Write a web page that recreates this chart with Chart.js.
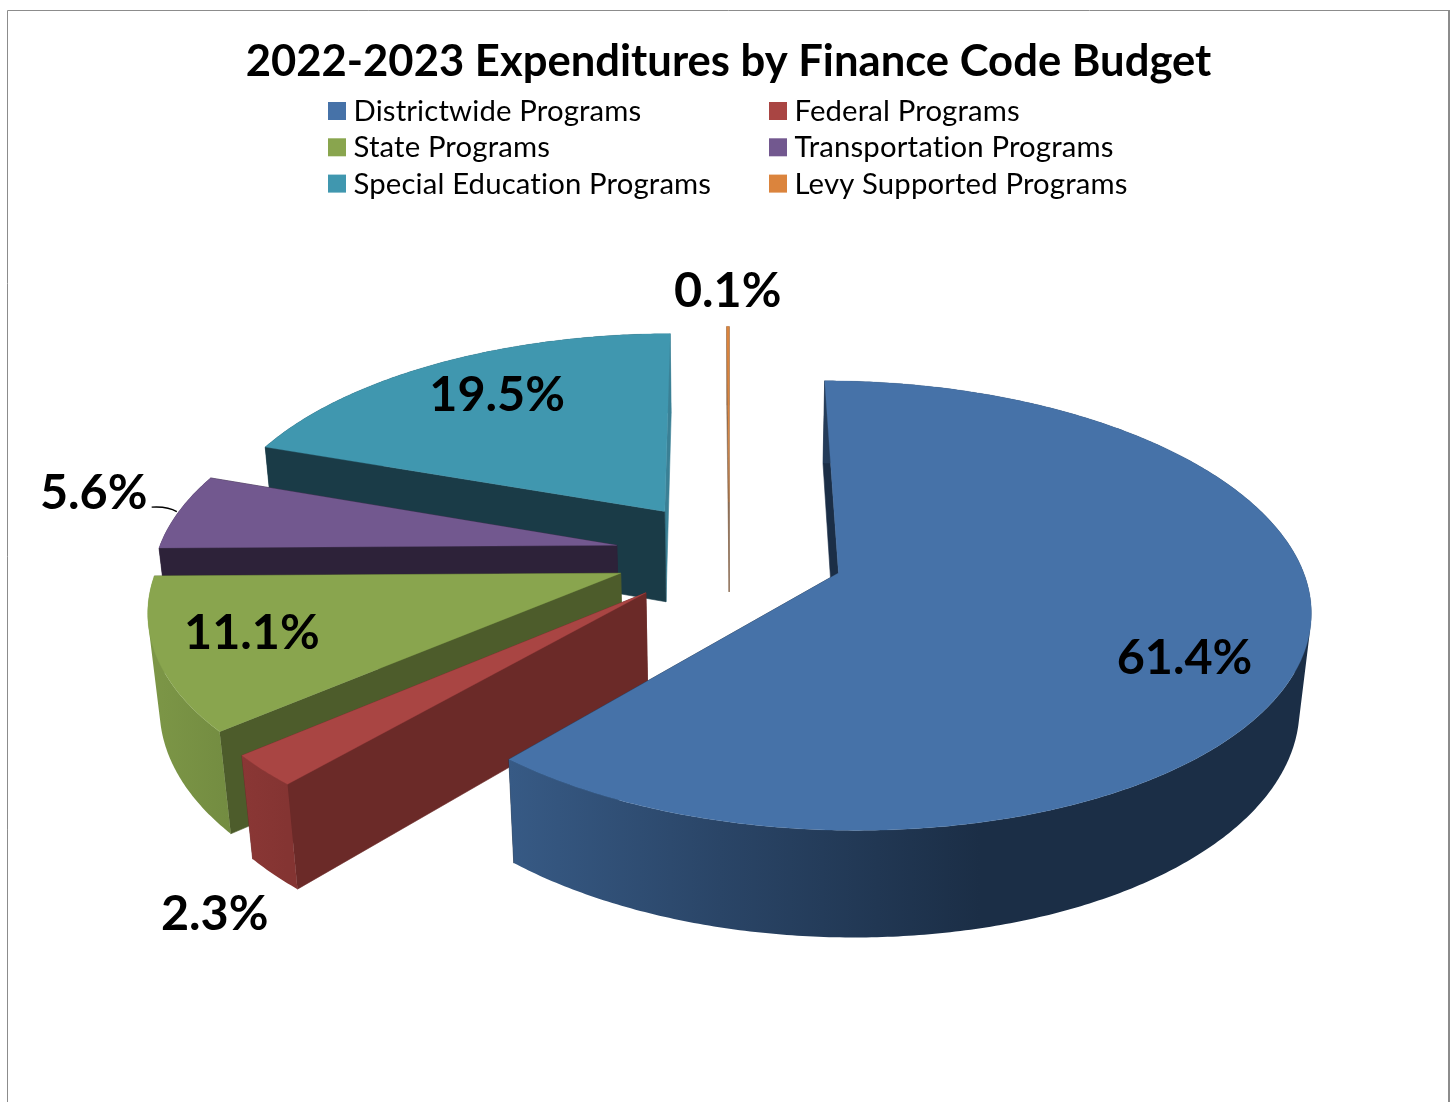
<!DOCTYPE html>
<html>
<head>
<meta charset="utf-8">
<title>2022-2023 Expenditures by Finance Code Budget</title>
<script src="https://cdn.jsdelivr.net/npm/chart.js@4"></script>
<style>
  html, body { margin: 0; padding: 0; background: #fff; overflow: hidden; }
  canvas { display: block; }
</style>
</head>
<body>
<canvas id="chart" width="1450" height="1102"></canvas>
<script>
// Budget shares, clockwise from twelve o'clock
const categories = ['Districtwide Programs', 'Federal Programs', 'State Programs',
                    'Transportation Programs', 'Special Education Programs', 'Levy Supported Programs'];
const shares = [61.4, 2.3, 11.1, 5.6, 19.5, 0.1];

// Slice colours
const topColors = ['#4672A8', '#A94543', '#89A54E', '#72588F', '#4097AF', '#DB843D'];
const cutColors = ['#1B2E46', '#6B2A28', '#4D5C2B', '#2D2239', '#1A3B47', '#8A6A50'];
const backCutColors = ['#1B2E46', '#6B2A28', '#4D5C2B', '#2D2239', '#3A8095', '#8A6A50'];
const rimStops = [
  [[509, '#375A85'], [720, '#2A4567'], [980, '#1B2E46'], [1310, '#1B2E46']],
  [[241, '#8A3735'], [287, '#843432']],
  [[146, '#7D9747'], [230, '#738C41']],
  [[150, '#2D2239'], [210, '#2D2239']],
  [[260, '#1A3B47'], [640, '#1A3B47'], [660, '#3A8095'], [675, '#3A8095']],
  [[720, '#8A6A50'], [740, '#8A6A50']]
];

// Label placement relative to each slice: distance from its point, turn from its mid angle (deg)
const labelReach = [0.781, 1.38, 0.797, 1.2245, 0.76, 1.243];
const labelTurn = [7, -13.4, 1.8, 2.9, 1.8, 0];

// Tilted-view camera for the exploded pie
const view = { cx: 729.5, cy: 554, sx: 459.5, sy: 214.6, depth: 94.5, depthGrow: 0.035, persp: 0.143, shrink: 0.02, explode: 0.25 };
const paintOrder = [5, 4, 3, 2, 1, 0];

function project(u, v, z) {
  const w = 1 - view.persp * v + view.shrink * z;
  return {
    x: view.cx + view.sx * u / w,
    y: view.cy + (view.sy * v + view.depth * z * (1 + view.depthGrow * v)) / w
  };
}

function addPolygon(ctx, pts) {
  pts.forEach((p, i) => (i ? ctx.lineTo(p.x, p.y) : ctx.moveTo(p.x, p.y)));
  ctx.closePath();
}

function polygon(ctx, pts) {
  ctx.beginPath();
  addPolygon(ctx, pts);
}

// Same winding for every strip, so overlapping strips add up under the nonzero fill rule
function clockwise(pts) {
  let area = 0;
  pts.forEach((p, i) => {
    const q = pts[(i + 1) % pts.length];
    area += p.x * q.y - q.x * p.y;
  });
  return area < 0 ? pts.slice().reverse() : pts;
}

const framePlugin = {
  id: 'frame',
  beforeDraw(chart) {
    const { ctx } = chart;
    ctx.save();
    ctx.fillStyle = '#fff';
    ctx.fillRect(0, 0, chart.width, chart.height);
    ctx.strokeStyle = '#8C8C8C';
    ctx.lineWidth = 1;
    ctx.beginPath();
    ctx.moveTo(7.5, chart.height);
    ctx.lineTo(7.5, 10.5);
    ctx.lineTo(chart.width, 10.5);
    ctx.stroke();
    ctx.fillStyle = '#8C8C8C';
    ctx.fillRect(1448, 10, 2, chart.height - 10);
    ctx.restore();
  }
};

const pie3dPlugin = {
  id: 'pie3d',
  // The arcs keep their layout from the pie controller; only the painting is replaced
  beforeDatasetDraw(chart, args) {
    const { ctx } = chart;
    const arcs = chart.getDatasetMeta(args.index).data;
    ctx.save();
    paintOrder.forEach(i => {
      const arc = arcs[i];
      const mid = (arc.startAngle + arc.endAngle) / 2;
      const tu = view.explode * Math.cos(mid);
      const tv = view.explode * Math.sin(mid);
      const rim = (a, z) => project(tu + Math.cos(a), tv + Math.sin(a), z);
      const point = z => project(tu, tv, z);

      const steps = Math.max(2, Math.ceil((arc.endAngle - arc.startAngle) / 0.01));
      const angles = [];
      for (let s = 0; s <= steps; s++) angles.push(arc.startAngle + (arc.endAngle - arc.startAngle) * s / steps);

      // Cut faces
      [[arc.endAngle, backCutColors[i]], [arc.startAngle, cutColors[i]]].forEach(([a, color]) => {
        polygon(ctx, [point(0), rim(a, 0), rim(a, 1), point(1)]);
        ctx.fillStyle = color;
        ctx.strokeStyle = color;
        ctx.lineWidth = 0.6;
        ctx.fill();
        ctx.stroke();
      });

      // Curved outer wall: every strip joins one path so the fill has no seams
      const stops = rimStops[i];
      const x0 = stops[0][0], x1 = stops[stops.length - 1][0];
      const grad = ctx.createLinearGradient(x0, 0, x1, 0);
      stops.forEach(([x, c]) => grad.addColorStop((x - x0) / (x1 - x0), c));
      ctx.fillStyle = grad;
      ctx.beginPath();
      for (let s = 0; s < steps; s++) {
        addPolygon(ctx, clockwise([rim(angles[s], 0), rim(angles[s + 1], 0), rim(angles[s + 1], 1), rim(angles[s], 1)]));
      }
      ctx.fill();

      // Top face
      polygon(ctx, [point(0)].concat(angles.map(a => rim(a, 0))));
      ctx.fillStyle = topColors[i];
      ctx.strokeStyle = topColors[i];
      ctx.lineWidth = 0.3;
      ctx.fill();
      ctx.stroke();
    });
    ctx.restore();
    return false;
  },
  afterDatasetsDraw(chart) {
    const { ctx } = chart;
    const arcs = chart.getDatasetMeta(0).data;
    ctx.save();
    ctx.fillStyle = '#000';
    ctx.font = 'bold 48.5px Lato';
    ctx.textAlign = 'center';
    ctx.textBaseline = 'middle';
    arcs.forEach((arc, i) => {
      const mid = (arc.startAngle + arc.endAngle) / 2;
      const turned = mid + labelTurn[i] * Math.PI / 180;
      const u = view.explode * Math.cos(mid) + labelReach[i] * Math.cos(turned);
      const v = view.explode * Math.sin(mid) + labelReach[i] * Math.sin(turned);
      const p = project(u, v, 0);
      ctx.fillText(shares[i].toFixed(1) + '%', p.x, p.y + 1.5);

      // Leader for the transportation slice, whose label sits clear of the pie
      if (i === 3) {
        const end = project(view.explode * Math.cos(mid) + Math.cos(mid), view.explode * Math.sin(mid) + Math.sin(mid), 0);
        ctx.strokeStyle = '#000';
        ctx.lineWidth = 1.3;
        ctx.beginPath();
        ctx.moveTo(p.x + 58, p.y + 15);
        ctx.quadraticCurveTo(p.x + 74, p.y + 14, end.x - 2, end.y);
        ctx.stroke();
      }
    });
    ctx.restore();
  }
};

// Two-column legend, filled row by row
const columnsLegendPlugin = {
  id: 'columnsLegend',
  afterDraw(chart) {
    const { ctx } = chart;
    const colors = chart.data.datasets[0].backgroundColor;
    ctx.save();
    ctx.font = '29.3px Lato';
    ctx.letterSpacing = '0.15px';
    ctx.textBaseline = 'middle';
    ctx.textAlign = 'left';
    chart.data.labels.forEach((label, i) => {
      const col = i % 2, row = Math.floor(i / 2);
      const x = col ? 769 : 328;
      const y = 102 + row * 36.3;
      ctx.fillStyle = colors[i];
      ctx.fillRect(x, y, 18, 18);
      ctx.fillStyle = '#000';
      ctx.fillText(label, x + 25.5, y + 9.5);
    });
    ctx.restore();
  }
};

new Chart(document.getElementById('chart'), {
  type: 'pie',
  data: {
    labels: categories,
    datasets: [{ data: shares, backgroundColor: topColors, borderWidth: 0 }]
  },
  plugins: [framePlugin, pie3dPlugin, columnsLegendPlugin],
  options: {
    responsive: false,
    animation: false,
    layout: { padding: { left: 7 } },
    plugins: {
      legend: { display: false },
      tooltip: { enabled: false },
      title: {
        display: true,
        fullSize: false,
        text: '2022-2023 Expenditures by Finance Code Budget',
        color: '#000',
        font: { family: 'Lato', size: 43.6, weight: 'bold' },
        padding: { top: 36, bottom: 10 }
      }
    }
  }
});
</script>
</body>
</html>
